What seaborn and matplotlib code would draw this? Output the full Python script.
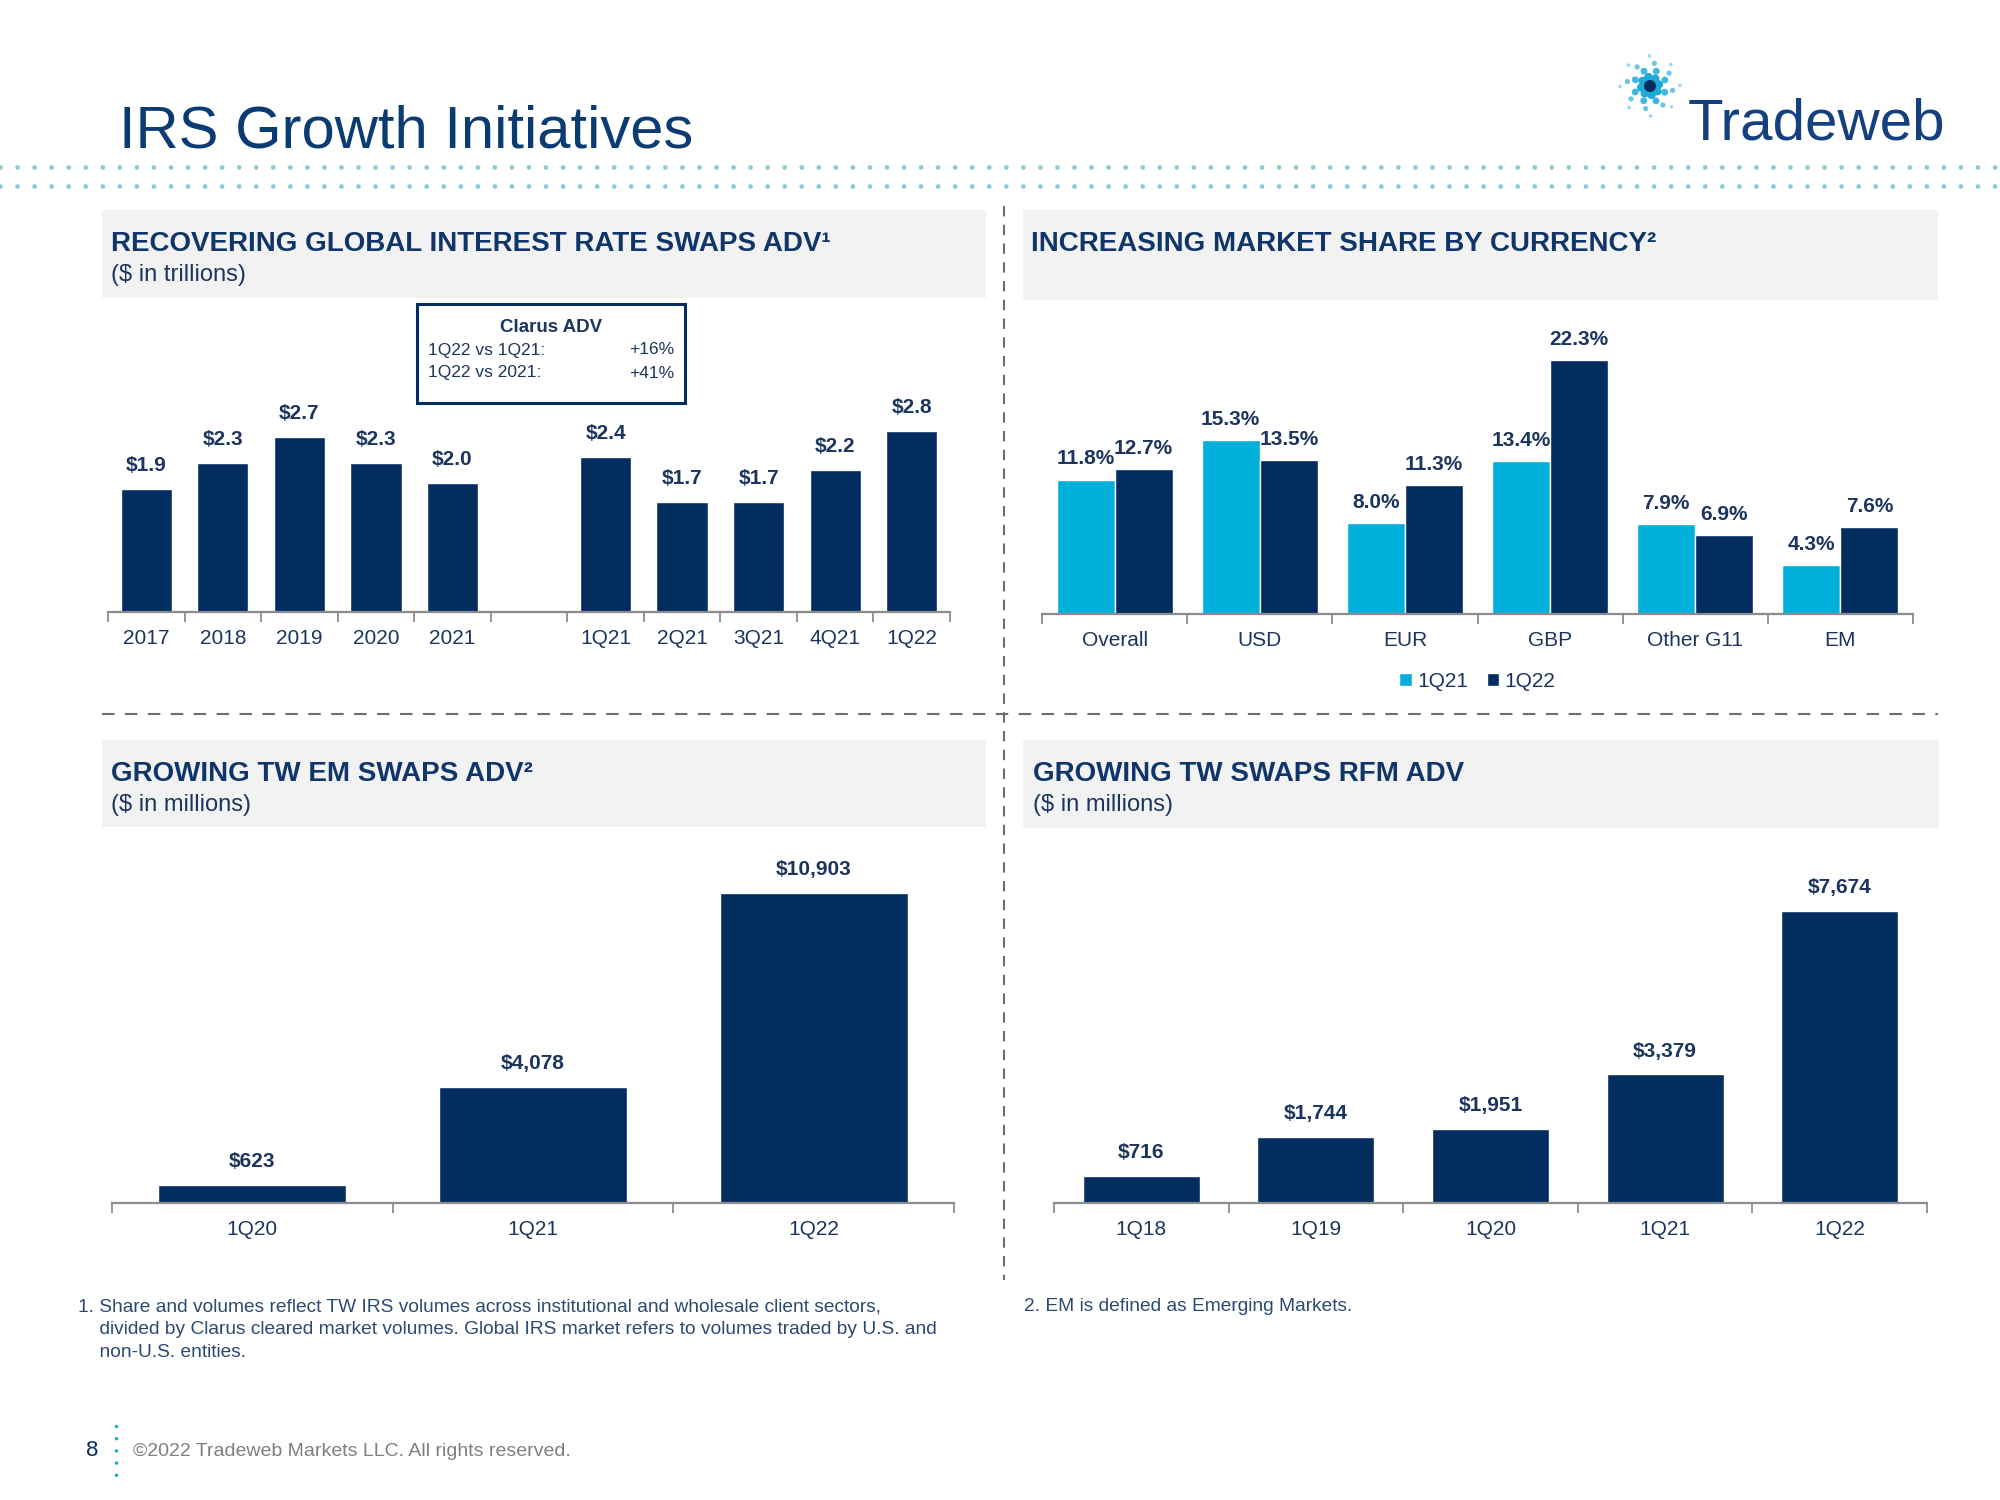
import numpy as np
import pandas as pd
import seaborn as sns
import matplotlib.pyplot as plt
from matplotlib.patches import Rectangle, Circle

# colours
NAVY = "#022D5E"
CYAN = "#00B0DA"
TXT = "#1C355E"
HEAD = "#0F3569"
BOX = "#F2F2F2"
DOT = "#8CC8D8"
AXIS = "#8C8C8C"

# ---- data ----
irs_periods = ["2017", "2018", "2019", "2020", "2021", "1Q21", "2Q21", "3Q21", "4Q21", "1Q22"]
irs_adv = [1.9, 2.3, 2.7, 2.3, 2.0, 2.4, 1.7, 1.7, 2.2, 2.8]

share_currencies = ["Overall", "USD", "EUR", "GBP", "Other G11", "EM"]
share_1q21 = [11.8, 15.3, 8.0, 13.4, 7.9, 4.3]
share_1q22 = [12.7, 13.5, 11.3, 22.3, 6.9, 7.6]

em_periods = ["1Q20", "1Q21", "1Q22"]
em_adv = [623, 4078, 10903]

rfm_periods = ["1Q18", "1Q19", "1Q20", "1Q21", "1Q22"]
rfm_adv = [716, 1744, 1951, 3379, 7674]

sns.set_theme(style="white")
plt.rcParams["font.family"] = ["Liberation Sans", "DejaVu Sans"]

W, H = 2000, 1500
fig = plt.figure(figsize=(20, 15), dpi=100)

# background layer in pixel coordinates (boxes, titles, separators)
bg = fig.add_axes([0, 0, 1, 1])
bg.set_xlim(0, W)
bg.set_ylim(H, 0)
bg.axis("off")


def px_axes(x0, y0, x1, y1):
    return fig.add_axes([x0 / W, 1 - y1 / H, (x1 - x0) / W, (y1 - y0) / H])


def style(ax, n, ymax):
    sns.despine(ax=ax, left=True)
    ax.set_xlim(-0.5, n - 0.5)
    ax.set_ylim(0, ymax)
    ax.set_yticks([])
    ax.set_xlabel("")
    ax.set_ylabel("")
    ax.patch.set_alpha(0)
    ax.spines["bottom"].set_color(AXIS)
    ax.spines["bottom"].set_linewidth(1.6)
    ax.set_xticks(np.arange(-0.5, n, 1), minor=True)
    ax.tick_params(axis="x", which="minor", bottom=True, length=7, width=1.3, color=AXIS)
    ax.tick_params(axis="x", which="major", bottom=False, length=0, pad=12,
                   labelsize=15, labelcolor=TXT)


# ---- title + logo ----
bg.text(119, 148, "IRS Growth Initiatives", fontsize=43, color="#0B3B73", va="baseline")
for yy in (167, 186):
    bg.plot([0, W], [yy, yy], color=DOT, lw=3.4, linestyle=(0, (0.01, 3.6)),
            dash_capstyle="round")

bg.text(1688, 140, "Tradeweb", fontsize=42, color="#15407F", va="baseline")
cx, cy = 1650, 86
for k in range(8):
    for j, r in enumerate([9, 16, 23, 30]):
        a = np.deg2rad(k * 45 + 12 * j + 10)
        bg.add_patch(Circle((cx + r * np.cos(a), cy - r * np.sin(a)), 4.2 - 0.8 * j,
                            color=["#1FA9D6", "#3DB8DF", "#6CC6E3", "#9ED6EA"][j], lw=0))
bg.add_patch(Circle((cx, cy), 6, color=NAVY, lw=0))

# ---- header boxes ----
headers = [
    (102, 210, 986, 298, 111, "RECOVERING GLOBAL INTEREST RATE SWAPS ADV\u00b9", "($ in trillions)"),
    (1023, 210, 1938, 300, 1031, "INCREASING MARKET SHARE BY CURRENCY\u00b2", None),
    (102, 740, 986, 827, 111, "GROWING TW EM SWAPS ADV\u00b2", "($ in millions)"),
    (1023, 740, 1939, 828, 1033, "GROWING TW SWAPS RFM ADV", "($ in millions)"),
]
for x0, y0, x1, y1, tx, head, sub in headers:
    bg.add_patch(Rectangle((x0, y0), x1 - x0, y1 - y0, color=BOX, lw=0))
    bg.text(tx, y0 + 34, head, weight="bold", fontsize=20, color=HEAD, va="center")
    if sub:
        bg.text(tx, y0 + 65, sub, fontsize=17, color=TXT, va="center")

# dashed separators
bg.plot([1004, 1004], [206, 1280], color="#6E6E6E", lw=1.5, linestyle=(0, (5, 4)))
bg.plot([102, 1938], [714, 714], color="#6E6E6E", lw=1.5, linestyle=(0, (6, 5)))

# Clarus box
bg.add_patch(Rectangle((417, 304), 268, 99, facecolor="white", edgecolor=NAVY, lw=2.2))
bg.text(551, 327, "Clarus ADV", fontsize=13.5, weight="bold", color=TXT, ha="center", va="center")
bg.text(428, 350, "1Q22 vs 1Q21:", fontsize=12.5, color=TXT, va="center")
bg.text(674, 350, "+16%", fontsize=12.5, color=TXT, va="center", ha="right")
bg.text(428, 373, "1Q22 vs 2021:", fontsize=12.5, color=TXT, va="center")
bg.text(674, 373, "+41%", fontsize=12.5, color=TXT, va="center", ha="right")

# ---- chart 1: global IRS ADV ----
ax1 = px_axes(108, 410, 950, 612)
irs_df = pd.DataFrame({"period": irs_periods, "adv": irs_adv})
irs_order = irs_periods[:5] + [" "] + irs_periods[5:]
sns.barplot(data=irs_df, x="period", y="adv", order=irs_order, color=NAVY,
            saturation=1, width=0.67, ax=ax1)
for c in ax1.containers:
    ax1.bar_label(c, fmt="${:.1f}", padding=10, fontsize=15, weight="bold", color=TXT)
style(ax1, len(irs_order), 3.12)

# ---- chart 2: market share by currency ----
ax2 = px_axes(1042, 320, 1913, 614)
share_df = pd.DataFrame({
    "currency": share_currencies * 2,
    "share": share_1q21 + share_1q22,
    "period": ["1Q21"] * len(share_currencies) + ["1Q22"] * len(share_currencies),
})
sns.barplot(data=share_df, x="currency", y="share", hue="period", palette=[CYAN, NAVY],
            saturation=1, width=0.8, gap=0, ax=ax2)
for c in ax2.containers:
    ax2.bar_label(c, fmt="{:.1f}%", padding=8, fontsize=15, weight="bold", color=TXT)
style(ax2, len(share_currencies), 25.8)
sns.move_legend(ax2, "center", bbox_to_anchor=(0.5, -0.23), ncol=2, frameon=False,
                title=None, fontsize=15, handlelength=0.6, handleheight=0.6,
                handletextpad=0.25, columnspacing=0.9)
for t in ax2.get_legend().get_texts():
    t.set_color(TXT)

# ---- chart 3: EM swaps ADV ----
ax3 = px_axes(112, 850, 954, 1203)
em_df = pd.DataFrame({"period": em_periods, "adv": em_adv})
sns.barplot(data=em_df, x="period", y="adv", color=NAVY, saturation=1, width=0.67, ax=ax3)
for c in ax3.containers:
    ax3.bar_label(c, fmt="${:,.0f}", padding=10, fontsize=15, weight="bold", color=TXT)
style(ax3, len(em_periods), 12416)

# ---- chart 4: RFM ADV ----
ax4 = px_axes(1054, 850, 1927, 1203)
rfm_df = pd.DataFrame({"period": rfm_periods, "adv": rfm_adv})
sns.barplot(data=rfm_df, x="period", y="adv", color=NAVY, saturation=1, width=0.67, ax=ax4)
for c in ax4.containers:
    ax4.bar_label(c, fmt="${:,.0f}", padding=10, fontsize=15, weight="bold", color=TXT)
style(ax4, len(rfm_periods), 9277)

# ---- footnotes + footer ----
bg.text(78, 1298,
        "1. Share and volumes reflect TW IRS volumes across institutional and wholesale client sectors,\n"
        "    divided by Clarus cleared market volumes. Global IRS market refers to volumes traded by U.S. and\n"
        "    non-U.S. entities.",
        fontsize=13.8, color="#2B4A72", va="top", linespacing=1.45)
bg.text(1024, 1298, "2. EM is defined as Emerging Markets.", fontsize=13.8, color="#2B4A72", va="top")

bg.text(92, 1451, "8", fontsize=16, color=NAVY, ha="center", va="center")
bg.plot([116, 116], [1426, 1478], color=CYAN, lw=2.5, linestyle=(0, (0.01, 3.5)),
        dash_capstyle="round")
bg.text(133, 1451, "\u00a92022 Tradeweb Markets LLC. All rights reserved.", fontsize=14,
        color="#7F7F7F", va="center")

fig.savefig("out.png", dpi=100)
